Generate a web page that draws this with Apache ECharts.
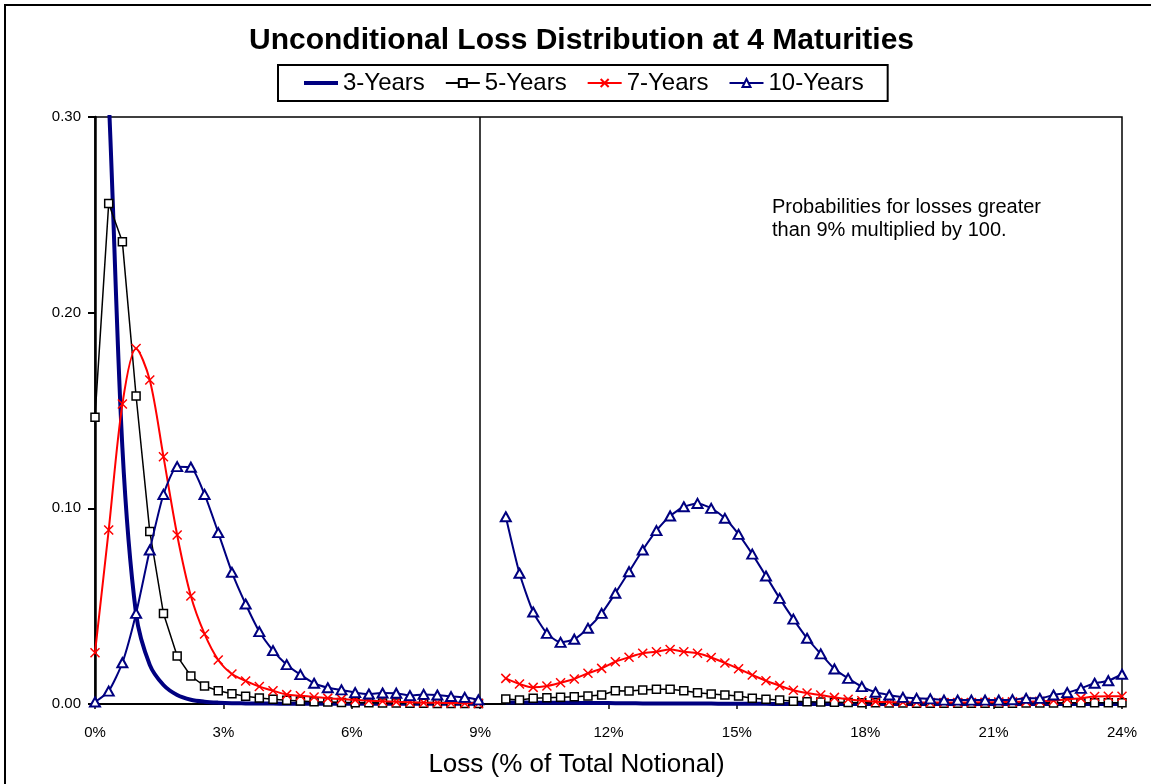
<!DOCTYPE html>
<html>
<head>
<meta charset="utf-8">
<title>Unconditional Loss Distribution at 4 Maturities</title>
<script src="https://cdn.jsdelivr.net/npm/echarts/dist/echarts.min.js"></script>
<style>
  html, body { margin: 0; padding: 0; background: #fff; }
  #lossChart { width: 1151px; height: 784px; }
</style>
</head>
<body>
<div id="lossChart"></div>
<script>
  // loss grid, % of total notional (one default = 0.32%)
  const lossPct = [
    0, 0.32, 0.64, 0.96, 1.28, 1.6, 1.92, 2.24, 2.56, 2.88,
    3.2, 3.52, 3.84, 4.16, 4.48, 4.8, 5.12, 5.44, 5.76, 6.08,
    6.4, 6.72, 7.04, 7.36, 7.68, 8.0, 8.32, 8.64, 8.96, 9.28,
    9.6, 9.92, 10.24, 10.56, 10.88, 11.2, 11.52, 11.84, 12.16, 12.48,
    12.8, 13.12, 13.44, 13.76, 14.08, 14.4, 14.72, 15.04, 15.36, 15.68,
    16.0, 16.32, 16.64, 16.96, 17.28, 17.6, 17.92, 18.24, 18.56, 18.88,
    19.2, 19.52, 19.84, 20.16, 20.48, 20.8, 21.12, 21.44, 21.76, 22.08,
    22.4, 22.72, 23.04, 23.36, 23.68, 24.0
  ];
  const xTicks = [0, 3, 6, 9, 12, 15, 18, 21, 24];
  const yTicks = [0, 0.1, 0.2, 0.3];
  const splitAt = 9; // above 9% probabilities are x100

  // probabilities, null = break between the two parts
  const threeYears = [
    0.44, 0.31, 0.131, 0.046, 0.020, 0.0097, 0.0046, 0.0022, 0.0012, 0.0007,
    0.0004, 0.0003, 0.0002, 0.0002, 0.0001, 0.0001, 0.0001, 0.0001, 0.0001, 0.0001,
    0.0001, 0.0001, 0.0001, 0.0001, 0.0001, 0.0001, 0.0001, 0.0001, 0.0001, null,
    0.0008, 0.0008, 0.0007, 0.0007, 0.0006, 0.0006, 0.0005, 0.0005, 0.0004, 0.0004,
    0.0003, 0.0003, 0.0003, 0.0002, 0.0002, 0.0002, 0.0001, 0.0001, 0.0001, 0.0001,
    0, 0, 0, 0, 0, 0, 0, 0, 0, 0,
    0, 0, 0, 0, 0, 0, 0, 0, 0, 0,
    0, 0, 0, 0, 0, 0
  ];
  const fiveYears = [
    0.1465, 0.2558, 0.2362, 0.1574, 0.0882, 0.0462, 0.0245, 0.0143, 0.0092, 0.0068,
    0.0052, 0.0040, 0.0031, 0.0024, 0.0019, 0.0015, 0.0012, 0.0010, 0.0008, 0.0007,
    0.0006, 0.0005, 0.0005, 0.0004, 0.0004, 0.0003, 0.0003, 0.0003, 0.0002, null,
    0.0026, 0.0020, 0.0029, 0.0032, 0.0034, 0.0037, 0.0041, 0.0046, 0.0068, 0.0066,
    0.0072, 0.0075, 0.0075, 0.0068, 0.0058, 0.0051, 0.0046, 0.0041, 0.0029, 0.0024,
    0.0020, 0.0014, 0.0012, 0.0010, 0.0009, 0.0008, 0.0007, 0.0006, 0.0005, 0.0005,
    0.0004, 0.0004, 0.0004, 0.0004, 0.0004, 0.0004, 0.0004, 0.0004, 0.0005, 0.0005,
    0.0005, 0.0006, 0.0006, 0.0006, 0.0006, 0.0006
  ];
  const sevenYears = [
    0.0262, 0.0889, 0.1533, 0.1817, 0.1656, 0.1264, 0.0864, 0.0552, 0.0358, 0.0225,
    0.0153, 0.0118, 0.0089, 0.0068, 0.0048, 0.0042, 0.0036, 0.0030, 0.0025, 0.0021,
    0.0017, 0.0014, 0.0011, 0.0009, 0.0007, 0.0006, 0.0005, 0.0004, 0.0003, null,
    0.0131, 0.0102, 0.0085, 0.0092, 0.0109, 0.0128, 0.0157, 0.0182, 0.0216, 0.0239,
    0.0259, 0.0267, 0.0279, 0.0267, 0.0259, 0.0238, 0.0210, 0.0180, 0.0148, 0.0119,
    0.0094, 0.0070, 0.0056, 0.0046, 0.0034, 0.0024, 0.0017, 0.0012, 0.0010, 0.0009,
    0.0008, 0.0008, 0.0008, 0.0008, 0.0008, 0.0009, 0.0010, 0.0011, 0.0012, 0.0014,
    0.0018, 0.0024, 0.0030, 0.0038, 0.0040, 0.0040
  ];
  const tenYears = [
    0.0010, 0.0066, 0.0211, 0.0463, 0.0787, 0.1071, 0.1213, 0.1210, 0.1071, 0.0876,
    0.0673, 0.0511, 0.0370, 0.0273, 0.0201, 0.0150, 0.0106, 0.0083, 0.0072, 0.0058,
    0.0051, 0.0056, 0.0055, 0.0043, 0.0049, 0.0046, 0.0038, 0.0034, 0.0021, null,
    0.0957, 0.0668, 0.0470, 0.0361, 0.0315, 0.0331, 0.0387, 0.0463, 0.0566, 0.0676,
    0.0787, 0.0886, 0.0961, 0.1008, 0.1025, 0.1000, 0.0949, 0.0867, 0.0766, 0.0654,
    0.0540, 0.0434, 0.0336, 0.0256, 0.0179, 0.0131, 0.0089, 0.0060, 0.0046, 0.0034,
    0.0029, 0.0026, 0.0020, 0.0020, 0.0020, 0.0020, 0.0020, 0.0022, 0.0029, 0.0029,
    0.0046, 0.0058, 0.0080, 0.0106, 0.0119, 0.0152
  ];

  const FONT = '"Liberation Sans", Arial, sans-serif';
  const NAVY = '#000080';

  function pairs(vals) {
    return lossPct.map((x, i) => [x, vals[i]]);
  }

  const chart = echarts.init(document.getElementById('lossChart'));

  chart.setOption({
    animation: false,
    backgroundColor: '#fff',
    textStyle: { fontFamily: FONT, color: '#000' },
    title: {
      text: 'Unconditional Loss Distribution at 4 Maturities',
      left: 244,
      top: 21,
      textStyle: { fontFamily: FONT, fontSize: 30, fontWeight: 'bold', color: '#000' }
    },
    legend: {
      left: 278,
      top: 65,
      padding: [5, 24],
      itemGap: 20,
      itemWidth: 34,
      itemHeight: 10,
      borderColor: '#000',
      borderWidth: 2,
      textStyle: { fontFamily: FONT, fontSize: 24, color: '#000', lineHeight: 26 },
      data: [
        // plain thick line, no marker
        { name: '3-Years', itemStyle: { opacity: 0 }, lineStyle: { width: 4 } },
        '5-Years', '7-Years', '10-Years'
      ]
    },
    graphic: [
      // outer chart frame
      {
        type: 'rect',
        shape: { x: 5, y: 5, width: 1200, height: 900 },
        style: { fill: 'none', stroke: '#000', lineWidth: 2 },
        silent: true,
        z: -1
      },
      {
        type: 'text',
        left: 772,
        top: 196,
        style: {
          text: 'Probabilities for losses greater\nthan 9% multiplied by 100.',
          font: '20px ' + FONT,
          lineHeight: 23,
          fill: '#000'
        }
      }
    ],
    grid: {
      left: 95,
      right: 29,
      top: 117,
      bottom: 80,
      show: true,
      borderColor: '#000',
      borderWidth: 1.5
    },
    xAxis: {
      type: 'value',
      min: xTicks[0],
      max: xTicks[xTicks.length - 1],
      interval: 3,
      name: 'Loss (% of Total Notional)',
      nameLocation: 'middle',
      nameGap: 48,
      nameTextStyle: { fontFamily: FONT, fontSize: 26, color: '#000', padding: [0, 64, 0, 0] },
      axisLine: { show: true, lineStyle: { color: '#000', width: 2 } },
      axisTick: { show: true, length: 5, lineStyle: { color: '#000', width: 1.5 } },
      axisLabel: { formatter: '{value}%', fontSize: 15, color: '#000', margin: 21 },
      splitLine: { show: false }
    },
    yAxis: {
      type: 'value',
      min: yTicks[0],
      max: yTicks[yTicks.length - 1],
      interval: 0.1,
      axisLine: { show: true, lineStyle: { color: '#000', width: 2.5 } },
      axisTick: { show: true, length: 7, lineStyle: { color: '#000', width: 2 } },
      axisLabel: { formatter: v => v.toFixed(2), fontSize: 15, color: '#000', margin: 14 },
      splitLine: { show: false }
    },
    series: [
      {
        name: '3-Years',
        type: 'line',
        data: pairs(threeYears),
        symbol: 'none',
        smooth: 0.3,
        color: NAVY,
        lineStyle: { color: NAVY, width: 4 },
        z: 2
      },
      {
        name: '5-Years',
        type: 'line',
        data: pairs(fiveYears),
        symbol: 'rect',
        symbolSize: 8,
        color: '#000',
        itemStyle: { color: '#fff', borderColor: '#000', borderWidth: 1.5 },
        lineStyle: { color: '#000', width: 1.5 },
        z: 3
      },
      {
        name: '7-Years',
        type: 'line',
        data: pairs(sevenYears),
        symbol: 'path://M0,0L10,10M10,0L0,10',
        symbolSize: 9,
        smooth: 0.3,
        color: '#ff0000',
        itemStyle: { color: 'rgba(0,0,0,0)', borderColor: '#ff0000', borderWidth: 1.5 },
        lineStyle: { color: '#ff0000', width: 2 },
        z: 4
      },
      {
        name: '10-Years',
        type: 'line',
        data: pairs(tenYears),
        symbol: 'triangle',
        symbolSize: [10, 9],
        smooth: 0.2,
        color: NAVY,
        itemStyle: { color: '#fff', borderColor: NAVY, borderWidth: 2 },
        lineStyle: { color: NAVY, width: 2 },
        markLine: {
          silent: true,
          symbol: 'none',
          label: { show: false },
          lineStyle: { color: '#000', type: 'solid', width: 1.5 },
          data: [{ xAxis: splitAt }]
        },
        z: 5
      }
    ]
  });
</script>
</body>
</html>
